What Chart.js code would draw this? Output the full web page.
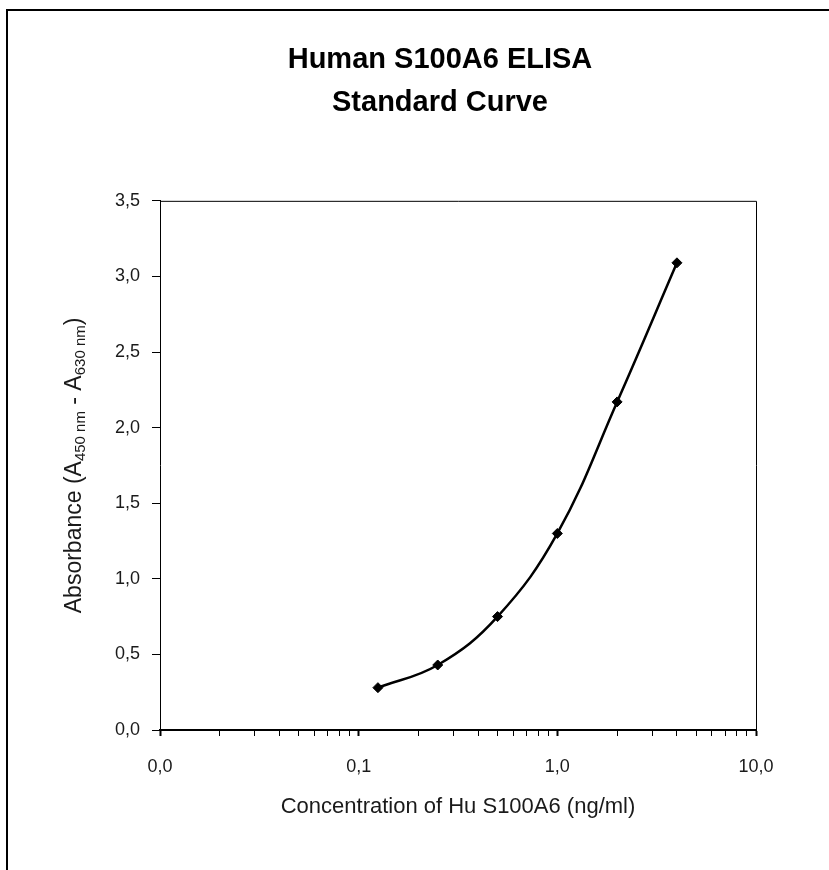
<!DOCTYPE html>
<html lang="en">
<head>
<meta charset="utf-8">
<title>Human S100A6 ELISA Standard Curve</title>
<script src="https://cdn.jsdelivr.net/npm/chart.js@4/dist/chart.umd.min.js"></script>
<style>
  html, body { margin: 0; padding: 0; background: #fff; }
  #zone { width: 829px; height: 870px; }
</style>
</head>
<body>
<div id="zone"><canvas id="graphique-standard" width="829" height="870"></canvas></div>
<script>
/** Data */
const concentrations = [0.125, 0.25, 0.5, 1, 2, 4];
const absorbances = [0.28, 0.43, 0.75, 1.30, 2.17, 3.09];

/** Axis ticks */
const xDecades = [0.01, 0.1, 1, 10];
const xMinorSteps = [2, 3, 4, 5, 6, 7, 8, 9];
const yMin = 0, yMax = 3.5, yStep = 0.5;

/** Texts */
const titre = ['Human S100A6 ELISA', 'Standard Curve'];
const titreX = 'Concentration of Hu S100A6 (ng/ml)';
const titreY = [
  { text: 'Absorbance (A', sub: false },
  { text: '450 nm', sub: true },
  { text: ' - A', sub: false },
  { text: '630 nm', sub: true },
  { text: ')', sub: false }
];

const police = "'Liberation Sans Narrow', 'Arial Narrow', 'Liberation Sans', sans-serif";
const encre = '#1a1a1a';

/** Comma decimal, one digit */
const virgule = function(v) {
  return Number(v).toFixed(1).replace('.', ',');
};

/** Frame round the picture */
const cadre = {
  id: 'cadre',
  beforeDraw(chart) {
    const ctx = chart.ctx;
    ctx.save();
    ctx.strokeStyle = '#000';
    ctx.lineWidth = 2;
    ctx.beginPath();
    ctx.moveTo(7, chart.height);
    ctx.lineTo(7, 10);
    ctx.lineTo(chart.width, 10);
    ctx.stroke();
    ctx.restore();
  }
};

/** Top and right edges of the plot box */
const boite = {
  id: 'boite',
  beforeDatasetsDraw(chart) {
    const { ctx, chartArea: a } = chart;
    ctx.save();
    ctx.strokeStyle = '#000';
    ctx.lineWidth = 1;
    ctx.beginPath();
    ctx.moveTo(a.left, a.top + 0.5);
    ctx.lineTo(a.right + 0.5, a.top + 0.5);
    ctx.lineTo(a.right + 0.5, a.bottom);
    ctx.stroke();
    ctx.restore();
  }
};

/** Y title with subscripts */
const titreVertical = {
  id: 'titreVertical',
  afterDraw(chart) {
    const ctx = chart.ctx;
    const a = chart.chartArea;
    const grand = '23px ' + police;
    const petit = '15px ' + police;
    ctx.save();
    let total = 0;
    titreY.forEach(p => {
      ctx.font = p.sub ? petit : grand;
      total += ctx.measureText(p.text).width;
    });
    ctx.translate(73, (a.top + a.bottom) / 2);
    ctx.rotate(-Math.PI / 2);
    ctx.fillStyle = encre;
    ctx.textBaseline = 'alphabetic';
    ctx.textAlign = 'left';
    let x = -total / 2;
    titreY.forEach(p => {
      ctx.font = p.sub ? petit : grand;
      ctx.fillText(p.text, x, p.sub ? 12 : 8);
      x += ctx.measureText(p.text).width;
    });
    ctx.restore();
  }
};

const points = concentrations.map((c, i) => ({ x: c, y: absorbances[i] }));

const ctx = document.getElementById('graphique-standard').getContext('2d');
new Chart(ctx, {
  type: 'line',
  data: {
    datasets: [{
      data: points,
      borderColor: '#000',
      backgroundColor: '#000',
      borderWidth: 2.5,
      tension: 0.4,
      pointStyle: 'rectRot',
      pointRadius: 5,
      pointBorderWidth: 1,
      fill: false
    }]
  },
  options: {
    responsive: false,
    devicePixelRatio: 1,
    animation: false,
    layout: { padding: { left: 84, right: 33, top: 0, bottom: 40 } },
    plugins: {
      legend: { display: false },
      tooltip: { enabled: false },
      title: {
        display: true,
        text: titre,
        color: '#000',
        font: { family: police, size: 29, weight: 'bold', lineHeight: 1.48 },
        padding: { top: 38.5, bottom: 76.5 }
      }
    },
    scales: {
      x: {
        type: 'logarithmic',
        min: xDecades[0],
        max: xDecades[xDecades.length - 1],
        afterFit(scale) { scale.height = 100; },
        afterBuildTicks(scale) {
          const ticks = [];
          xDecades.forEach((d, i) => {
            ticks.push({ value: d, major: true });
            if (i < xDecades.length - 1) {
              xMinorSteps.forEach(m => ticks.push({ value: d * m, major: false }));
            }
          });
          scale.ticks = ticks;
        },
        border: { display: true, color: '#000', width: 2 },
        grid: {
          drawOnChartArea: false,
          drawTicks: true,
          tickLength: 6,
          color: '#000',
          tickWidth: (c) => (c.tick && c.tick.major ? 2 : 1)
        },
        ticks: {
          autoSkip: false,
          maxRotation: 0,
          padding: 20,
          color: encre,
          font: { family: police, size: 18 },
          callback: function(value) {
            return xDecades.includes(value) ? virgule(value) : '';
          }
        },
        title: {
          display: true,
          text: titreX,
          color: encre,
          font: { family: police, size: 22, lineHeight: 1.2 },
          padding: { top: 0, bottom: 10 }
        }
      },
      y: {
        min: yMin,
        max: yMax,
        afterFit(scale) { scale.width = 76; },
        border: { display: true, color: '#000', width: 1 },
        grid: {
          drawOnChartArea: false,
          drawTicks: true,
          tickLength: 8,
          color: '#000'
        },
        ticks: {
          stepSize: yStep,
          padding: 12,
          color: encre,
          font: { family: police, size: 18 },
          callback: (value) => virgule(value)
        }
      },
      /** Empty space on the right so the title sits where it should */
      marge: {
        position: 'right',
        afterFit(scale) { scale.width = 40; },
        border: { display: false },
        grid: { display: false },
        ticks: { display: false }
      }
    }
  },
  plugins: [cadre, boite, titreVertical]
});
</script>
</body>
</html>
